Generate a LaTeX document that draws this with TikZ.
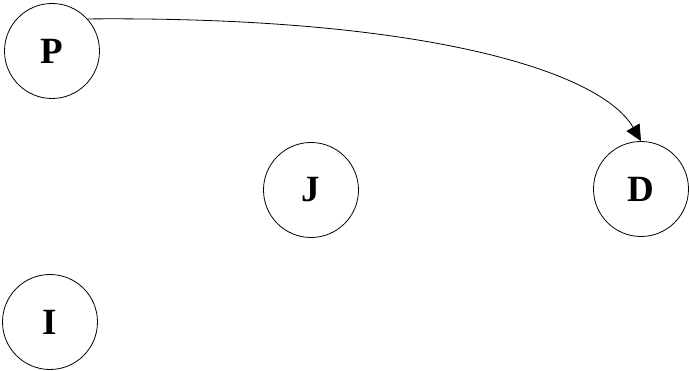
\documentclass[tikz,border=0pt]{standalone}
\usepackage{fontspec}
\setmainfont{Liberation Serif}
\usetikzlibrary{arrows.meta}
\begin{document}
\begin{tikzpicture}[x=1pt,y=-1pt,
  vnode/.style={circle,draw,line width=0.8pt,minimum size=95pt,inner sep=0pt,font=\fontsize{37}{37}\selectfont\bfseries},
  conn/.style={line width=0.8pt,-{Triangle[length=16pt,width=15pt]}}]
\useasboundingbox (0,0) rectangle (689,371);
\node[vnode] (P) at (52,51) {P};
\node[vnode] (J) at (311,190) {J};
\node[vnode] (D) at (641,189) {D};
\node[vnode] (I) at (50,322) {I};
\draw[conn] (P.42) .. controls (420,16) and (600,70) .. (D.north);
\end{tikzpicture}
\end{document}
